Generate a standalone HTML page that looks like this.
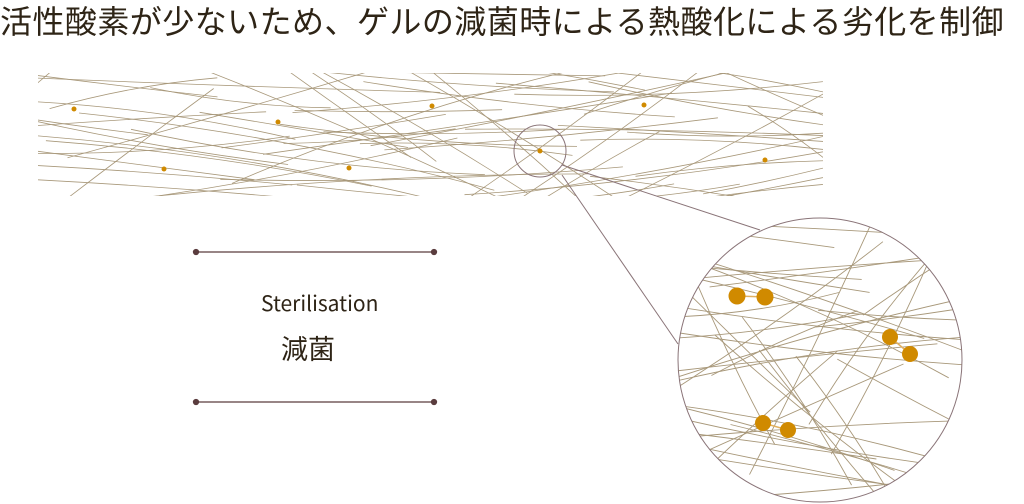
<!DOCTYPE html>
<html><head><meta charset="utf-8"><style>
html,body{margin:0;padding:0;background:#fff;width:1024px;height:504px;overflow:hidden;position:relative}
.t{position:absolute;font-family:"Noto Sans CJK JP",sans-serif;color:#2e2416;white-space:nowrap;line-height:1.2}
</style></head><body>
<div class="t" style="left:0;top:1px;font-size:32px;letter-spacing:0.45px">活性酸素が少ないため、ゲルの減菌時による熱酸化による劣化を制御</div>
<div class="t" style="left:261px;top:291px;font-size:21px">Sterilisation</div>
<div class="t" style="left:281px;top:332px;font-size:27px">減菌</div>
<svg id="s" width="1024" height="504" style="position:absolute;left:0;top:0">
<defs>
<clipPath id="band"><rect x="38" y="73" width="785" height="123"/></clipPath>
<clipPath id="circ"><circle cx="820" cy="360" r="142"/></clipPath>
</defs>
<g id="bandg" clip-path="url(#band)" fill="none" stroke="#a8987a" stroke-width="0.8"></g>
<g id="circg" clip-path="url(#circ)" fill="none" stroke="#a8987a" stroke-width="0.9"></g>
<circle cx="820" cy="360" r="142" fill="none" stroke="#8a7478" stroke-width="1"/>
<circle cx="540" cy="151" r="26" fill="none" stroke="#8a7478" stroke-width="1"/>
<line x1="562" y1="165" x2="760" y2="230" stroke="#8a7478" stroke-width="1"/>
<line x1="562" y1="175" x2="678" y2="344" stroke="#8a7478" stroke-width="1"/>
<g fill="#d08a00">
<circle cx="74" cy="109" r="2.5"/><circle cx="278" cy="122" r="2.5"/><circle cx="164" cy="169" r="2.5"/>
<circle cx="349" cy="168" r="2.5"/><circle cx="432" cy="106" r="2.5"/><circle cx="540" cy="151" r="2.5"/>
<circle cx="644" cy="105" r="2.5"/><circle cx="765" cy="160" r="2.5"/>
<line x1="737" y1="296" x2="765" y2="297" stroke="#e0b060" stroke-width="1.5"/>
<line x1="890" y1="337" x2="910" y2="354" stroke="#e0b060" stroke-width="1.5"/>
<line x1="763" y1="423" x2="788" y2="430" stroke="#e0b060" stroke-width="1.5"/>
<circle cx="737" cy="296" r="8.5"/><circle cx="765" cy="297" r="8.5"/>
<circle cx="890" cy="337" r="8"/><circle cx="910" cy="354" r="8"/>
<circle cx="763" cy="423" r="8"/><circle cx="788" cy="430" r="8"/>
</g>
<g stroke="#5a3c3e" stroke-width="1.3" fill="#5a3c3e">
<line x1="196" y1="252" x2="434" y2="252"/><circle cx="196" cy="252" r="2.5"/><circle cx="434" cy="252" r="2.5"/>
<line x1="196" y1="402" x2="434" y2="402"/><circle cx="196" cy="402" r="2.5"/><circle cx="434" cy="402" r="2.5"/>
</g>
</svg>
<script>
var seed=11;function r(){seed=(seed*16807)%2147483647;return seed/2147483647;}
function gen(id,x0,y0,w,h,n,maxAng,len){var g=document.getElementById(id),s='';
for(var i=0;i<n;i++){var cx=x0+r()*w,cy=y0+r()*h;
var a=(r()*2-1)*maxAng;if(r()<0.55)a*=0.25;
var L=len*(0.4+r()*0.8);var dx=Math.cos(a)*L/2,dy=Math.sin(a)*L/2;
var bend=(r()-0.5)*L*0.12;
var qx=cx-Math.sin(a)*bend,qy=cy+Math.cos(a)*bend;
s+='<path d="M'+(cx-dx).toFixed(1)+' '+(cy-dy).toFixed(1)+' Q'+qx.toFixed(1)+' '+qy.toFixed(1)+' '+(cx+dx).toFixed(1)+' '+(cy+dy).toFixed(1)+'"/>';}
g.innerHTML=s;}
gen('bandg',38,73,785,123,70,0.75,420);
gen('circg',678,218,284,284,42,1.2,360);
</script>
</body></html>
